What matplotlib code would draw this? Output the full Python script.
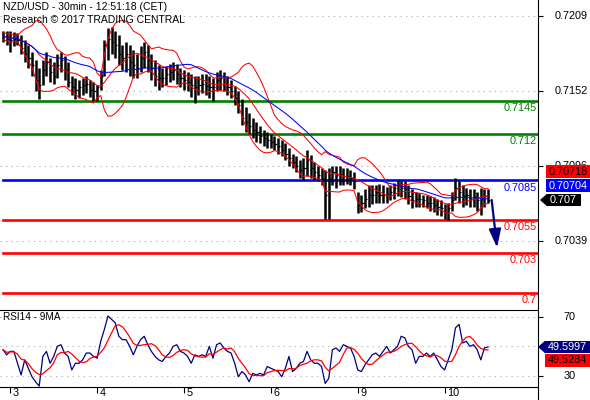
import numpy as np
import pandas as pd
import matplotlib
matplotlib.use("Agg")
import matplotlib.pyplot as plt
from matplotlib.patches import Polygon, Rectangle
from matplotlib.lines import Line2D
from matplotlib.transforms import blended_transform_factory, offset_copy

plt.rcParams["font.family"] = ["Liberation Sans", "DejaVu Sans"]
plt.rcParams["font.size"] = 7.8

# NZD/USD (one value per hour)
high = [
    0.7198, 0.7198, 0.7198, 0.7197, 0.7196, 0.7195, 0.7191, 0.7187, 0.7182, 0.7176,
    0.7170, 0.7176, 0.7182, 0.7177, 0.7174, 0.7180, 0.7182, 0.7179, 0.7174, 0.7164,
    0.7162, 0.7161, 0.7162, 0.7164, 0.7161, 0.7159, 0.7157, 0.7168, 0.7191, 0.7200,
    0.7201, 0.7198, 0.7195, 0.7187, 0.7189, 0.7187, 0.7183, 0.7180, 0.7186, 0.7189,
    0.7187, 0.7180, 0.7176, 0.7172, 0.7170, 0.7171, 0.7173, 0.7174, 0.7173, 0.7170,
    0.7168, 0.7167, 0.7165, 0.7164, 0.7164, 0.7165, 0.7165, 0.7164, 0.7162, 0.7167,
    0.7168, 0.7167, 0.7164, 0.7161, 0.7156, 0.7152, 0.7146, 0.7140, 0.7136, 0.7132,
    0.7129, 0.7126, 0.7123, 0.7121, 0.7120, 0.7118, 0.7117, 0.7115, 0.7113, 0.7109,
    0.7105, 0.7103, 0.7100, 0.7102, 0.7108, 0.7104, 0.7099, 0.7096, 0.7094, 0.7093,
    0.7094, 0.7096, 0.7096, 0.7096, 0.7094, 0.7094, 0.7093, 0.7091, 0.7076, 0.7074,
    0.7078, 0.7081, 0.7081, 0.7081, 0.7082, 0.7081, 0.7080, 0.7081, 0.7083, 0.7085,
    0.7084, 0.7084, 0.7081, 0.7078, 0.7076, 0.7075, 0.7074, 0.7074, 0.7073, 0.7072,
    0.7071, 0.7070, 0.7067, 0.7068, 0.7076, 0.7087, 0.7084, 0.7081, 0.7079, 0.7078,
    0.7078, 0.7076, 0.7079, 0.7078, 0.7078,
]
low = [
    0.7189, 0.7187, 0.7182, 0.7186, 0.7187, 0.7180, 0.7174, 0.7170, 0.7164, 0.7152,
    0.7146, 0.7157, 0.7164, 0.7159, 0.7158, 0.7162, 0.7167, 0.7161, 0.7155, 0.7149,
    0.7146, 0.7147, 0.7149, 0.7151, 0.7148, 0.7145, 0.7145, 0.7153, 0.7164, 0.7176,
    0.7180, 0.7177, 0.7172, 0.7168, 0.7167, 0.7164, 0.7162, 0.7162, 0.7167, 0.7170,
    0.7167, 0.7161, 0.7156, 0.7153, 0.7155, 0.7157, 0.7159, 0.7161, 0.7158, 0.7155,
    0.7153, 0.7152, 0.7148, 0.7143, 0.7149, 0.7151, 0.7149, 0.7147, 0.7145, 0.7152,
    0.7153, 0.7152, 0.7149, 0.7147, 0.7142, 0.7136, 0.7127, 0.7121, 0.7120, 0.7117,
    0.7114, 0.7113, 0.7111, 0.7109, 0.7109, 0.7108, 0.7105, 0.7103, 0.7100, 0.7096,
    0.7094, 0.7091, 0.7087, 0.7085, 0.7088, 0.7087, 0.7085, 0.7084, 0.7081, 0.7056,
    0.7056, 0.7081, 0.7079, 0.7081, 0.7081, 0.7082, 0.7081, 0.7078, 0.7060, 0.7061,
    0.7064, 0.7065, 0.7067, 0.7068, 0.7068, 0.7068, 0.7068, 0.7070, 0.7071, 0.7073,
    0.7072, 0.7071, 0.7067, 0.7064, 0.7065, 0.7065, 0.7065, 0.7064, 0.7062, 0.7061,
    0.7059, 0.7058, 0.7056, 0.7055, 0.7062, 0.7070, 0.7068, 0.7065, 0.7066, 0.7065,
    0.7065, 0.7062, 0.7059, 0.7065, 0.7068,
]
close = [
    0.7194, 0.7192, 0.7191, 0.7192, 0.7191, 0.7185, 0.7180, 0.7177, 0.7172, 0.7161,
    0.7157, 0.7168, 0.7174, 0.7167, 0.7164, 0.7172, 0.7176, 0.7168, 0.7159, 0.7155,
    0.7153, 0.7155, 0.7157, 0.7158, 0.7153, 0.7152, 0.7155, 0.7164, 0.7187, 0.7192,
    0.7189, 0.7187, 0.7180, 0.7177, 0.7180, 0.7174, 0.7172, 0.7170, 0.7177, 0.7182,
    0.7176, 0.7170, 0.7164, 0.7162, 0.7162, 0.7165, 0.7167, 0.7168, 0.7165, 0.7162,
    0.7161, 0.7159, 0.7157, 0.7155, 0.7157, 0.7158, 0.7156, 0.7155, 0.7155, 0.7161,
    0.7162, 0.7158, 0.7155, 0.7152, 0.7147, 0.7142, 0.7132, 0.7129, 0.7126, 0.7123,
    0.7121, 0.7118, 0.7117, 0.7115, 0.7114, 0.7112, 0.7111, 0.7108, 0.7105, 0.7102,
    0.7099, 0.7096, 0.7093, 0.7094, 0.7100, 0.7094, 0.7091, 0.7089, 0.7087, 0.7074,
    0.7087, 0.7091, 0.7089, 0.7090, 0.7088, 0.7088, 0.7087, 0.7084, 0.7066, 0.7068,
    0.7071, 0.7074, 0.7074, 0.7076, 0.7074, 0.7074, 0.7074, 0.7076, 0.7079, 0.7081,
    0.7079, 0.7078, 0.7073, 0.7070, 0.7071, 0.7071, 0.7070, 0.7068, 0.7068, 0.7066,
    0.7065, 0.7064, 0.7061, 0.7064, 0.7070, 0.7079, 0.7076, 0.7073, 0.7074, 0.7071,
    0.7072, 0.7070, 0.7071, 0.7073, 0.7070,
]
# RSI14 as drawn in the lower panel, same hourly sampling
rsi_values = [
    47.7, 44.3, 46.6, 46.6, 38.6, 30.7, 40.9, 35.2, 29.5, 26.1,
    23.2, 43.2, 46.6, 38.6, 43.2, 50.0, 51.1, 45.5, 43.2, 34.1,
    38.6, 38.6, 40.9, 45.5, 45.5, 43.2, 42.0, 53.4, 61.4, 70.5,
    68.2, 65.9, 56.8, 54.5, 54.5, 50.0, 44.3, 50.0, 54.5, 56.8,
    51.1, 46.6, 43.2, 40.9, 39.8, 43.2, 45.5, 50.0, 51.1, 46.6,
    45.5, 43.2, 38.6, 44.3, 43.2, 44.3, 43.2, 50.0, 42.0, 51.1,
    52.3, 48.9, 46.6, 45.5, 38.6, 29.5, 33.0, 30.7, 26.1, 31.8,
    30.7, 31.8, 30.7, 36.4, 35.2, 34.1, 33.0, 29.5, 35.2, 43.2,
    33.0, 35.2, 38.6, 39.8, 46.6, 40.9, 38.6, 38.6, 36.4, 25.0,
    28.4, 47.7, 48.9, 46.6, 51.1, 50.0, 48.9, 43.2, 34.1, 33.0,
    37.5, 40.9, 44.3, 45.5, 43.2, 46.6, 50.0, 45.5, 47.7, 50.0,
    56.8, 55.7, 50.0, 47.7, 38.6, 43.2, 43.2, 45.5, 43.2, 45.5,
    40.9, 36.4, 34.1, 40.9, 47.7, 62.5, 64.8, 52.3, 53.4, 50.0,
    51.1, 47.7, 40.9, 48.9, 49.6,
]

day_start = [2, 26, 50, 74, 98, 122]
day_labels = ["3", "4", "5", "6", "9", "10"]

levels = [0.7145, 0.712, 0.7085, 0.7055, 0.703, 0.7]
level_labels = ["0.7145", "0.712", "0.7085", "0.7055", "0.703", "0.7"]
level_colors = ["#008000", "#008000", "#0000FF", "#FF0000", "#FF0000", "#FF0000"]

price_ticks = [0.7209, 0.7152, 0.7096, 0.7039]
price_tick_labels = ["0.7209", "0.7152", "0.7096", "0.7039"]
rsi_grid = [70, 50, 30]
rsi_tick_labels = {70: "70", 30: "30"}

target_price = 0.7034
upper_band_label = "0.70718"
ma_label = "0.70704"
last_label = "0.707"
rsi_last = 49.5997
rsi_label = "49.5997"
rsi_ma_label = "49.5284"

W, H = 590, 400


def fx(x):
    return x / W


def fy(y):
    return 1 - y / H


# indicators
s = pd.Series(close)
mid = s.rolling(10, min_periods=1).mean()
sd = s.rolling(10, min_periods=2).std(ddof=1).bfill()
upper = mid + 2 * sd
lower = mid - 2 * sd
ma = s.rolling(25, min_periods=1).mean()

rsi = pd.Series(rsi_values)
rsi_ma = rsi.rolling(5, min_periods=1).mean()

idx = np.arange(len(close))

fig = plt.figure(figsize=(W / 100, H / 100), dpi=100)
ax = fig.add_axes([0, fy(310), fx(538), 310 / H])
ax2 = fig.add_axes([0, fy(387), fx(538), 77 / H])

xlim = (-0.83, 147.8)
for a in (ax, ax2):
    a.set_xlim(*xlim)
    for sp in ("top", "left", "right", "bottom"):
        a.spines[sp].set_visible(False)
ax.set_ylim(0.69869, 0.72211)
ax2.set_ylim(22.58, 74.52)
ax2.spines["top"].set_visible(True)
ax2.spines["bottom"].set_visible(True)
ax2.spines["top"].set_linewidth(0.8)
ax2.spines["bottom"].set_linewidth(0.8)

# grid dots
ax.hlines(price_ticks, xlim[0], xlim[1], colors="#aaaaaa", linestyles=(0, (1, 4)), lw=0.8, zorder=1)
ax2.hlines(rsi_grid, xlim[0], xlim[1], colors="#aaaaaa", linestyles=(0, (1, 4)), lw=0.8, zorder=1)

# support / resistance levels
for lv, lab, col in zip(levels, level_labels, level_colors):
    ax.axhline(lv, xmin=0.006, xmax=1, color=col, lw=1.9, zorder=2)
    tr = offset_copy(blended_transform_factory(ax.transAxes, ax.transData), fig=fig, y=-7.5, units="dots")
    ax.text(537 / 538, lv, lab, color=col, ha="right", va="center", transform=tr, zorder=6)

# price bars
ax.vlines(idx, low, high, color="black", lw=1.8, zorder=3)
ax.hlines(close, idx, idx + 0.6, color="black", lw=0.9, zorder=3)

# bollinger and moving average
ax.plot(idx, upper, color="#FF0000", lw=0.75, zorder=4)
ax.plot(idx, mid, color="#FF0000", lw=0.75, zorder=4)
ax.plot(idx, lower, color="#FF0000", lw=0.75, zorder=4)
ax.plot(idx, ma, color="#0000FF", lw=0.75, zorder=4)

# projection arrow
ax.annotate("", xy=(136.5, target_price), xytext=(135.0, close[-1]),
            arrowprops=dict(arrowstyle="-|>,head_length=0.55,head_width=0.18",
                            color="#000080", lw=1.6, mutation_scale=20,
                            shrinkA=0, shrinkB=0), zorder=5)

# RSI
ax2.plot(idx, rsi, color="#000080", lw=0.9, zorder=3)
ax2.plot(idx, rsi_ma, color="#FF0000", lw=0.9, zorder=3)

# ticks
ax.set_xticks([])
ax.yaxis.tick_right()
ax.set_yticks(price_ticks)
ax.tick_params(axis="y", length=3.6, width=0.8, labelright=False, direction="out")
ax2.yaxis.tick_right()
ax2.set_yticks(list(rsi_tick_labels.keys()))
ax2.tick_params(axis="y", length=3.6, width=0.8, labelright=False, direction="out")
ax2.set_xticks(day_start)
ax2.tick_params(axis="x", length=4.5, width=0.8, labelbottom=False, direction="out")

tr_price = blended_transform_factory(fig.transFigure, ax.transData)
for val, lab in zip(price_ticks, price_tick_labels):
    ax.text(fx(571), val, lab, ha="center", va="center", transform=tr_price, clip_on=False)
tr_rsi = blended_transform_factory(fig.transFigure, ax2.transData)
for val, lab in rsi_tick_labels.items():
    ax2.text(fx(570), val, lab, ha="center", va="center", transform=tr_rsi, clip_on=False)
tr_day = blended_transform_factory(ax2.transData, fig.transFigure)
for d, lab in zip(day_start, day_labels):
    ax2.text(d + 0.7, fy(393), lab, ha="left", va="center", transform=tr_day, clip_on=False)

# right border, full height
fig.add_artist(Line2D([fx(538), fx(538)], [0, 1], color="black", lw=0.8, transform=fig.transFigure))

# titles
fig.text(fx(3), fy(7), "NZD/USD - 30min - 12:51:18 (CET)", ha="left", va="center", fontsize=7.5)
fig.text(fx(3), fy(20), "Research \u00a9 2017 TRADING CENTRAL", ha="left", va="center", fontsize=7.5)
fig.text(fx(3), fy(317), "RSI14 - 9MA", ha="left", va="center", fontsize=7.2)


def top_px(a, val):
    return H - a.transData.transform((0, val))[1]


def value_box(ycen, x0, x1, text, fc, tc, pointer_to=None, h=12.5):
    y0 = ycen - h / 2
    fig.add_artist(Rectangle((fx(x0), fy(y0 + h)), (x1 - x0) / W, h / H,
                             transform=fig.transFigure, fc=fc, ec="none", zorder=5))
    if pointer_to is not None:
        fig.add_artist(Polygon([(fx(x0), fy(y0)), (fx(pointer_to), fy(ycen)), (fx(x0), fy(y0 + h))],
                               closed=True, transform=fig.transFigure, fc=fc, ec="none", zorder=5))
    fig.text(fx(x0 + 2.5), fy(ycen), text, color=tc, ha="left", va="center", zorder=6)


y_last = top_px(ax, close[-1])
value_box(y_last - 28.5, 546, 591, upper_band_label, "#FF0000", "black")
value_box(y_last - 14.5, 546, 591, ma_label, "#0000FF", "white")
value_box(y_last, 547, 581, last_label, "black", "white", pointer_to=540)

y_rsi = top_px(ax2, rsi_last)
value_box(y_rsi, 545, 591, rsi_label, "#000080", "white", pointer_to=538)
value_box(y_rsi + 13.5, 545, 591, rsi_ma_label, "#FF0000", "black")

fig.savefig("out.png", dpi=100)
